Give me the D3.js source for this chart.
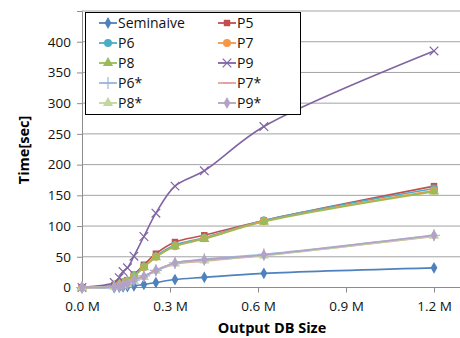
<!DOCTYPE html>
<html>
<head>
<meta charset="utf-8">
<script src="https://cdn.jsdelivr.net/npm/d3@7.9.0/dist/d3.min.js"></script>
<style>
  body { margin: 0; background: #fff; }
  svg { font-family: 'Open Sans', sans-serif; }
</style>
</head>
<body>
<svg width="460" height="338"></svg>
<script>
// output DB size in millions
const sizes = [0, 0.11, 0.127, 0.14, 0.155, 0.177, 0.211, 0.252, 0.317, 0.417, 0.62, 1.2];

const seminaive = [0, 0, 0.5, 1, 1.5, 2.5, 5, 8, 13, 16.5, 23, 32];
const p5 = [0, 4, 7, 9, 12, 21, 37, 55, 74, 85, 109, 165];
const p6 = [0, 3, 6, 8, 11, 19, 34, 51, 69, 81, 109, 161];
const p7 = [0, 3, 6, 8, 10, 18, 33, 50, 67, 80, 108, 158];
const p8 = [0, 3, 5, 7, 10, 18, 33, 49, 67, 79, 107, 156];
const p9 = [0, 8, 16, 26, 32, 51, 83, 121, 165, 190, 262, 385];
const p6s = [0, 1, 2, 4, 6, 12, 19, 28, 40, 46, 54, 85];
const p7s = [0, 1, 2, 3, 5, 11, 17, 27, 38, 43, 52, 83];
const p8s = [0, 1, 2, 3, 5, 11, 17, 27, 39, 44, 52, 84];
const p9s = [0, 1, 2, 4, 6, 12, 18, 28, 40, 45, 53, 85];

const seriesNames = ['Seminaive', 'P5', 'P6', 'P7', 'P8', 'P9', 'P6*', 'P7*', 'P8*', 'P9*'];
const seriesValues = [seminaive, p5, p6, p7, p8, p9, p6s, p7s, p8s, p9s];

const xTicks = [0, 0.3, 0.6, 0.9, 1.2];
const yTicks = [0, 50, 100, 150, 200, 250, 300, 350, 400, 450];

const colors = ['#4f81bd', '#c0504d', '#4bacc6', '#f79646', '#9bbb59', '#8064a2',
                '#9eb6dd', '#e0a3a2', '#c3d69b', '#b3a2c7'];
const markers = ['diamond', 'square', 'circle', 'circle', 'triangle', 'times',
                 'plus', 'dash', 'triangle', 'diamond'];

const svg = d3.select('svg');
const x = d3.scaleLinear().domain([0, 1.2]).range([82, 434]);
const y = d3.scaleLinear().domain([0, 450]).range([287.5, 11]);
const right = 460;

// gridlines
svg.append('g')
  .selectAll('line')
  .data(yTicks.slice(1))
  .join('line')
  .attr('x1', x(0)).attr('x2', right)
  .attr('y1', (d) => y(d)).attr('y2', (d) => y(d))
  .attr('stroke', '#a3a3a3').attr('stroke-width', 1);

// axes
const yAxis = svg.append('g')
  .attr('transform', `translate(${x(0)},0)`)
  .call(d3.axisLeft(y).tickValues(yTicks).tickSize(5).tickPadding(6)
    .tickFormat((d) => (d === 450 ? '' : d)));
const xAxis = svg.append('g')
  .attr('transform', `translate(0,${y(0)})`)
  .call(d3.axisBottom(x).tickValues(xTicks).tickSize(5).tickPadding(8)
    .tickFormat((d) => d3.format('.1f')(d) + ' M'));
xAxis.select('.domain').attr('d', `M${x(0)},0H${right}`);

[xAxis, yAxis].forEach((g) => {
  g.select('.domain').attr('stroke', '#8c8c8c');
  g.selectAll('.tick line').attr('stroke', '#8c8c8c');
  g.selectAll('text').attr('font-size', 13.5).attr('fill', '#111')
    .attr('font-family', "'Open Sans', sans-serif");
});
xAxis.selectAll('text').attr('dy', '0.75em');

svg.append('text')
  .attr('transform', 'translate(29,150) rotate(-90)')
  .attr('text-anchor', 'middle')
  .attr('font-weight', 'bold').attr('font-size', 14.5)
  .text('Time[sec]');
svg.append('text')
  .attr('x', 272).attr('y', 333)
  .attr('text-anchor', 'middle')
  .attr('font-weight', 'bold').attr('font-size', 14.5)
  .text('Output DB Size');

function drawMarker(g, type, color) {
  if (type === 'times' || type === 'plus') {
    g.append('path')
      .attr('d', d3.symbol().type(type === 'times' ? d3.symbolTimes : d3.symbolPlus).size(50)())
      .attr('fill', 'none').attr('stroke', color).attr('stroke-width', 1.2);
  } else if (type === 'dash') {
    g.append('path').attr('d', 'M-4,0H4').attr('stroke', color).attr('stroke-width', 2);
  } else {
    const t = { diamond: d3.symbolDiamond, square: d3.symbolSquare,
                circle: d3.symbolCircle, triangle: d3.symbolTriangle }[type];
    const size = { diamond: 40, square: 42, circle: 50, triangle: 45 }[type];
    g.append('path').attr('d', d3.symbol().type(t).size(size)()).attr('fill', color);
  }
}

const line = d3.line()
  .x((d) => x(d[0]))
  .y((d) => y(d[1]))
  .curve(d3.curveCatmullRom.alpha(0.5));

seriesValues.forEach((vals, i) => {
  const pts = sizes.map((s, j) => [s, vals[j]]);
  const g = svg.append('g');
  g.append('path')
    .attr('d', line(pts))
    .attr('fill', 'none')
    .attr('stroke', colors[i])
    .attr('stroke-width', 1.6);
  pts.forEach((p) => {
    const m = g.append('g').attr('transform', `translate(${x(p[0])},${y(p[1])})`);
    drawMarker(m, markers[i], colors[i]);
  });
});

// legend
const legend = svg.append('g');
legend.append('rect')
  .attr('x', 85.5).attr('y', 12.5).attr('width', 215).attr('height', 102)
  .attr('fill', '#fff').attr('stroke', '#000').attr('stroke-width', 1);
seriesNames.forEach((name, i) => {
  const col = i % 2;
  const row = Math.floor(i / 2);
  const lx = col === 0 ? 108 : 227;
  const ly = 23 + row * 20;
  const item = legend.append('g').attr('transform', `translate(${lx},${ly})`);
  item.append('line').attr('x1', -9).attr('x2', 9)
    .attr('stroke', colors[i]).attr('stroke-width', 1.8);
  drawMarker(item, markers[i], colors[i]);
  item.append('text')
    .attr('x', 10).attr('y', 5)
    .attr('font-size', 14).attr('fill', '#111')
    .text(name);
});
</script>
</body>
</html>
